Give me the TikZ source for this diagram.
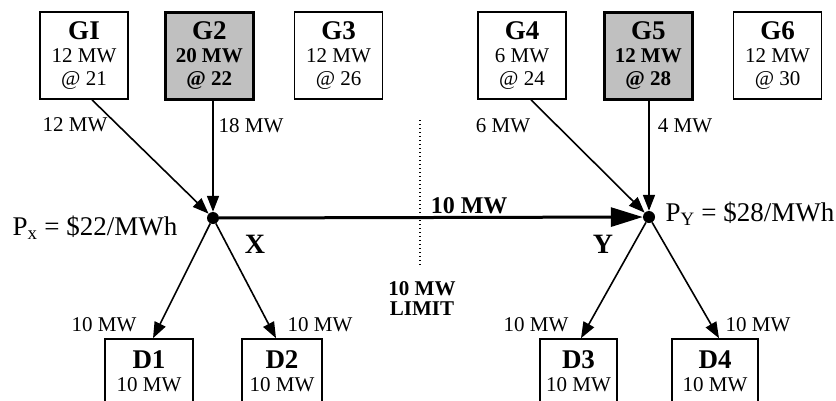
\documentclass[tikz,border=0pt]{standalone}
\usepackage{fontspec}
\setmainfont{Liberation Serif}
\usetikzlibrary{arrows.meta,positioning}
\definecolor{gShade}{RGB}{192,192,192}
\newcommand{\boxtitle}[1]{{\fontsize{27}{27}\selectfont\bfseries #1}}

\begin{document}
\begin{tikzpicture}[x=1pt,y=-1pt,
      gbox/.style={draw,line width=1.6pt,minimum width=88pt,minimum height=87pt,
                   inner sep=0pt,align=center,font=\fontsize{21}{23}\selectfont},
      gsel/.style={gbox,fill=gShade,line width=3pt,font=\fontsize{21}{23}\selectfont\bfseries},
      dbox/.style={draw,line width=1.6pt,minimum height=65pt,inner sep=0pt,
                   align=center,font=\fontsize{21}{23}\selectfont},
      bus/.style={circle,fill,inner sep=0pt,minimum size=12pt},
      flow/.style={-{Triangle[length=16pt,width=12pt]},line width=1.6pt},
      lbl/.style={font=\fontsize{21}{21}\selectfont,inner sep=0pt}]
    \useasboundingbox (0,0) rectangle (836,400);
    \clip (0,0) rectangle (836,400);
    % generators
    \node[gbox] (G1) at (84,55.5) {\boxtitle{GI}\\ 12 MW\\ @ 21};
    \node[gsel,right=35pt of G1] (G2) {\boxtitle{G2}\\ 20 MW\\ @ 22};
    \node[gbox,right=39pt of G2] (G3) {\boxtitle{G3}\\ 12 MW\\ @ 26};
    \node[gbox] (G4) at (522,55.5) {\boxtitle{G4}\\ 6 MW\\ @ 24};
    \node[gsel,right=36pt of G4] (G5) {\boxtitle{G5}\\ 12 MW\\ @ 28};
    \node[gbox,right=39pt of G5] (G6) {\boxtitle{G6}\\ 12 MW\\ @ 30};
    % buses
    \node[bus] (X) at (213,218) {};
    \node[bus] (Y) at (649,217) {};
    \node[font=\fontsize{27}{27}\selectfont] (Px) at (95,228) {P\textsubscript{x} = \$22/MWh};
    \node[font=\fontsize{27}{27}\selectfont] (Py) at (750,214) {P\textsubscript{Y} = \$28/MWh};
    \node[font=\fontsize{28}{28}\selectfont\bfseries] (Xname) at (255,244) {X};
    \node[font=\fontsize{28}{28}\selectfont\bfseries] (Yname) at (603,244) {Y};
    % loads
    \node[dbox,minimum width=88pt] (D1) at (149,371.5) {\boxtitle{D1}\\ 10 MW};
    \node[dbox,minimum width=80pt] (D2) at (282,371.5) {\boxtitle{D2}\\ 10 MW};
    \node[dbox,minimum width=77pt] (D3) at (578.5,371.5) {\boxtitle{D3}\\ 10 MW};
    \node[dbox,minimum width=86pt] (D4) at (715,371.5) {\boxtitle{D4}\\ 10 MW};
    % flows
    \draw[flow] ([xshift=8pt]G1.south) -- (X);
    \draw[flow] (G2.south -| X) -- (X);
    \draw[flow] ([xshift=9pt]G4.south) -- (Y);
    \draw[flow] (G5.south -| Y) -- (Y);
    \draw[flow] (X) -- ([xshift=4pt]D1.north);
    \draw[flow] (X) -- ([xshift=-6pt]D2.north);
    \draw[flow] (Y) -- ([xshift=2.5pt]D3.north);
    \draw[flow] (Y) -- ([xshift=4pt]D4.north);
    \draw[-{Triangle[length=32pt,width=19pt]},line width=3pt] (X) --
      node[pos=0.59,above=1pt,inner sep=1pt,font=\fontsize{24}{24}\selectfont\bfseries] (tie) {10 MW} (Y);
    \node[lbl] (f1) at (75,125) {12 MW};
    \node[lbl] (f2) at (251,126) {18 MW};
    \node[lbl] (f4) at (503,126) {6 MW};
    \node[lbl] (f5) at (685,126) {4 MW};
    \node[lbl] (l1) at (104,325) {10 MW};
    \node[lbl] (l2) at (320,325) {10 MW};
    \node[lbl] (l3) at (536,325) {10 MW};
    \node[lbl] (l4) at (758,325) {10 MW};
    % limit
    \coordinate (limtop) at (420,120);
    \coordinate (limbot) at (420,266);
    \draw[line width=1.6pt,dash pattern=on 1.2pt off 2.8pt] (limtop) -- (limbot);
    \node[font=\fontsize{21}{20}\selectfont\bfseries,align=center] (lim) at (422,299) {10 MW\\LIMIT};
  \end{tikzpicture}
\end{document}
